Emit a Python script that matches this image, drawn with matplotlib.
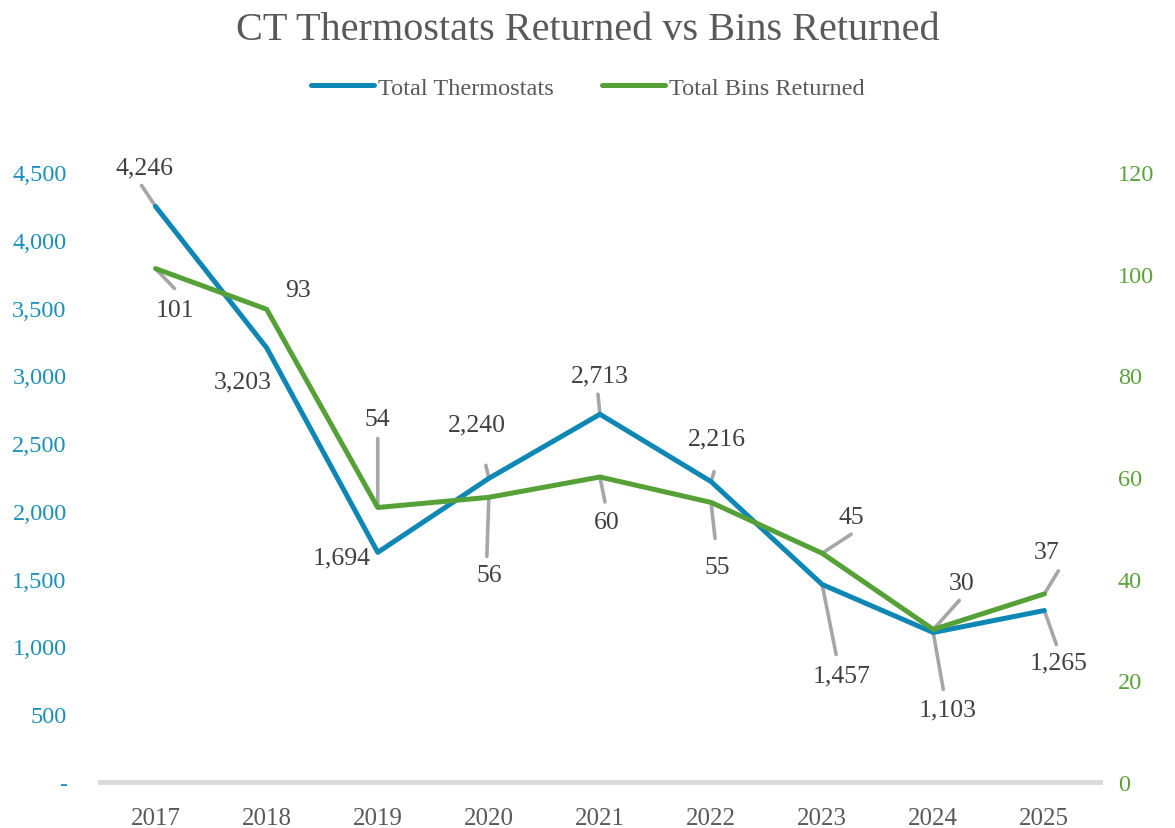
import matplotlib.pyplot as plt
from matplotlib.ticker import FuncFormatter, MultipleLocator

years = ['2017', '2018', '2019', '2020', '2021', '2022', '2023', '2024', '2025']
thermostats = [4246, 3203, 1694, 2240, 2713, 2216, 1457, 1103, 1265]
bins = [101, 93, 54, 56, 60, 55, 45, 30, 37]

# label offsets in pixels (text centre, leader end) relative to each point
therm_text = [(-11, 39), (-24, -34), (-36, -5), (-12, 54), (0, 39), (6, 43), (19, -91), (14, -77), (14, -52)]
therm_lead = [(-14, 21), None, None, (-3, 13), (-2, 20), (3, 10), (14, -70), (10, -57), (12, -34)]
bins_text = [(19, -41), (31, 19), (0, 89), (0, -78), (7, -45), (6, -65), (29, 36), (28, 46), (2, 42)]
bins_lead = [(19, -20), None, (0, 69), (-2, -59), (5, -25), (4, -36), (29, 19), (26, 29), (14, 23)]

blue = '#0E87B5'
green = '#55A137'
grey_txt = '#404040'
lead_col = '#A6A6A6'

plt.rcParams['font.family'] = ['Liberation Serif', 'DejaVu Serif']

fig = plt.figure(figsize=(11.75, 8.29), dpi=100)
ax = fig.add_axes([0.0851, 0.0555, 0.851, 0.7358])
ax2 = ax.twinx()

x = list(range(len(years)))
ax.plot(x, thermostats, color=blue, lw=3.6, solid_capstyle='round', zorder=3, label='Total Thermostats')
ax2.plot(x, bins, color=green, lw=3.6, solid_capstyle='round', zorder=3, label='Total Bins Returned')

ax.set_xlim(-0.5, len(years) - 0.5)
ax.set_ylim(0, 4500)
ax2.set_ylim(0, 120)
ax.yaxis.set_major_locator(MultipleLocator(500))
ax2.yaxis.set_major_locator(MultipleLocator(20))
ax.yaxis.set_major_formatter(FuncFormatter(lambda v, p: '-' if v == 0 else f'{v:,.0f}'))
ax.set_xticks(x)
ax.set_xticklabels(years)

for a in (ax, ax2):
    for s in a.spines.values():
        s.set_visible(False)
ax.spines['bottom'].set_visible(True)
ax.spines['bottom'].set_color('#D9D9D9')
ax.spines['bottom'].set_linewidth(3.5)

ax.tick_params(axis='x', length=0, pad=18, labelsize=18, labelcolor='#595959')
ax.tick_params(axis='y', length=0, pad=24, labelsize=17.5, labelcolor='#1A8FBA')
ax2.tick_params(axis='y', length=0, pad=13, labelsize=17.5, labelcolor='#5AA23A')


def label_series(axis, values, texts, leads, fmt):
    for i, v in enumerate(values):
        if leads[i] is not None:
            axis.annotate('', xy=(i, v), xytext=leads[i], textcoords='offset pixels',
                          arrowprops=dict(arrowstyle='-', color=lead_col, lw=2.6,
                                          shrinkA=0, shrinkB=0), zorder=2)
        axis.annotate(fmt(v), xy=(i, v), xytext=texts[i], textcoords='offset pixels',
                      ha='center', va='center', fontsize=18.5, color=grey_txt, zorder=4)


label_series(ax, thermostats, therm_text, therm_lead, lambda v: f'{v:,}')
label_series(ax2, bins, bins_text, bins_lead, lambda v: f'{v}')

fig.suptitle('CT Thermostats Returned vs Bins Returned', y=0.985, fontsize=29, color='#595959')
h1, l1 = ax.get_legend_handles_labels()
h2, l2 = ax2.get_legend_handles_labels()
fig.legend(h1 + h2, l1 + l2, loc='center', bbox_to_anchor=(0.5, 0.893), ncol=2, frameon=False,
           fontsize=17.5, labelcolor='#595959', handlelength=2.6, handletextpad=0.15, columnspacing=2.0)

fig.savefig('out.png', dpi=100)
